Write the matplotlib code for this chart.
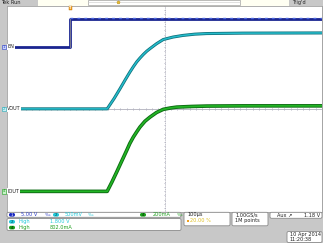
import matplotlib
matplotlib.use("Agg")
import matplotlib.pyplot as plt
import numpy as np
from matplotlib.patches import Rectangle, FancyBboxPatch

# ---------------- data (read from the screen) ----------------
# time in microseconds, trigger at t = 0, 100 us/div, screen spans -200 .. 800 us
t_en = [-200, 0, 0, 800]
en_v = [0.0, 0.0, 6.7, 6.7]           # EN, 5 V/div, ground marker at +3 div

t_vout = [-200, 118, 140, 159, 175, 190, 201, 212, 222, 233, 244, 254, 275, 296, 327, 359, 396, 434, 550, 800]
vout_v = [0.0, 0.0, 0.25, 0.49, 0.70, 0.89, 1.02, 1.14, 1.23, 1.32, 1.40, 1.46, 1.58, 1.68, 1.74, 1.78, 1.81, 1.825, 1.835, 1.84]  # 500 mV/div

t_iout = [-200, 118, 133, 148, 164, 180, 190, 201, 212, 222, 238, 254, 275, 296, 318, 339, 386, 434, 550, 800]
iout_ma = [0, 0, 90, 186, 292, 397, 465, 526, 578, 623, 680, 720, 765, 795, 808, 817, 823, 827, 829, 829]  # 200 mA/div

ch_scale = {"EN": 5.0, "VOUT": 0.5, "IOUT": 200.0}
ch_offset = {"EN": 3.0, "VOUT": 0.0, "IOUT": -4.0}

W, H = 323, 243
fig = plt.figure(figsize=(W / 100, H / 100), dpi=100)
fig.patch.set_facecolor("#c8c8c8")

back = fig.add_axes([0, 0, 1, 1], zorder=0)
back.set_xlim(0, W); back.set_ylim(H, 0); back.axis("off")

gx0, gx1, gy0, gy1 = 7, 322, 5.7, 212
ax = fig.add_axes([gx0 / W, (H - gy1) / H, (gx1 - gx0) / W, (gy1 - gy0) / H], zorder=1)
ax.set_facecolor("white")
ax.set_xlim(-200, 800)
ax.set_ylim(-5, 5)
ax.set_xticks([]); ax.set_yticks([])
for s in ax.spines.values():
    s.set_color("#a0a0a0"); s.set_linewidth(0.6)

# graticule dots
gcol = "#a9abc8"
for xk in np.arange(-100, 800, 100):
    ys = np.arange(-5, 5.01, 0.2)
    ax.scatter(np.full_like(ys, xk), ys, s=0.35, c=gcol, marker="s", linewidths=0, zorder=1)
for yk in np.arange(-4, 5, 1):
    xs = np.arange(-200, 800.1, 20)
    ax.scatter(xs, np.full_like(xs, yk), s=0.35, c=gcol, marker="s", linewidths=0, zorder=1)
# centre cross
ax.axhline(0, color="#a0a0ae", lw=0.5, zorder=1)
ax.axvline(300, color="#a0a0ae", lw=0.5, ls=(0, (1.5, 1)), zorder=1)
for xs in np.arange(-200, 800.1, 20):
    ax.plot([xs, xs], [-0.06, 0.06], color="#b0b0c0", lw=0.4, zorder=1)
for ys in np.arange(-5, 5.01, 0.2):
    ax.plot([297, 303], [ys, ys], color="#b0b0c0", lw=0.4, zorder=1)


def to_div(vals, ch):
    return [ch_offset[ch] + v / ch_scale[ch] for v in vals]


en_d = to_div(en_v, "EN")
vo_d = to_div(vout_v, "VOUT")
io_d = to_div(iout_ma, "IOUT")

# EN trace with noise speckle on the high level
ax.plot(t_en, en_d, color="#1a2590", lw=2.0, zorder=3, solid_capstyle="butt")
ax.plot([0, 800], [en_d[-1] + 0.06, en_d[-1] + 0.06], color="#4a66e0", lw=1.0,
        ls=(0, (2, 3)), zorder=4)
ax.plot([0, 0], [en_d[1], en_d[2]], color="#7a7a90", lw=0.7, zorder=3)
# VOUT
ax.plot(t_vout, vo_d, color="#0f6f7a", lw=2.2, zorder=3)
ax.plot(t_vout, vo_d, color="#25bccb", lw=1.1, zorder=4)
# IOUT
ax.plot(t_iout, io_d, color="#0d6a12", lw=2.6, zorder=3)
ax.plot(t_iout, io_d, color="#22b425", lw=1.3, zorder=4)

fr = fig.add_axes([0, 0, 1, 1], zorder=2)
fr.set_xlim(0, W); fr.set_ylim(H, 0); fr.axis("off")
fr.patch.set_alpha(0)

fs = 3.6
# top bar
fr.add_patch(Rectangle((38, 0), 251, 5.7, facecolor="#fffff2", edgecolor="none"))
fr.add_patch(Rectangle((88, 0.3), 152, 4.4, facecolor="white", edgecolor="#a0a0a0", lw=0.5))
fr.plot([88, 240], [2.5, 2.5], color="#c8c8c8", lw=0.4)
fr.plot([118], [2.5], marker="p", ms=2.4, color="#e8c030", mec="#b08010", mew=0.3)
fr.text(1.0, 2.7, "Tek Run", fontsize=fs, va="center", ha="left", color="#202020")
fr.text(292, 2.7, "Trig'd", fontsize=fs, va="center", ha="left", color="#202020")
# trigger marker
fr.add_patch(Rectangle((68.5, 6), 3, 4.3, facecolor="#f0a020", edgecolor="#c07000", lw=0.3))
fr.text(70, 8.1, "T", fontsize=2.6, ha="center", va="center", color="white", fontweight="bold")


def div_to_px(d):
    return gy0 + (5 - d) / 10 * (gy1 - gy0)


def marker(ypx, num, fc, ec, label):
    fr.add_patch(Rectangle((1.8, ypx - 2.3), 4.6, 4.6, facecolor=fc, edgecolor=ec, lw=0.4))
    fr.text(4.1, ypx, num, fontsize=2.8, ha="center", va="center", color=ec)
    fr.text(7.3, ypx, label, fontsize=fs, ha="left", va="center", color="#202020",
            bbox=dict(boxstyle="square,pad=0.08", facecolor="white", edgecolor="none"))


marker(div_to_px(ch_offset["EN"]), "1", "#c8d4fa", "#2c3cc8", "EN")
marker(div_to_px(ch_offset["VOUT"]), "2", "#c8f0f4", "#20a8b8", "VOUT")
marker(div_to_px(ch_offset["IOUT"]), "4", "#c8f2c8", "#20a020", "IOUT")


def rbox(x, y, w, h):
    fr.add_patch(FancyBboxPatch((x, y), w, h, boxstyle="round,pad=0,rounding_size=1.5",
                                facecolor="white", edgecolor="#8a8a8a", lw=0.6))


rbox(7, 212.3, 174, 5)
rbox(7, 218.5, 174, 12)
rbox(184, 212.3, 46, 13.5)
rbox(232, 212.3, 36, 13.5)
rbox(270, 212.3, 52, 6)
rbox(287, 231.5, 35, 11)


def badge(x, y, num, fc, tc):
    fr.add_patch(FancyBboxPatch((x - 3, y - 1.8), 6, 3.6, boxstyle="round,pad=0,rounding_size=1.7",
                                facecolor=fc, edgecolor="none"))
    fr.text(x, y, num, fontsize=2.8, ha="center", va="center", color=tc)


blue_t, cyan_t, green_t = "#2c3cc8", "#20c8d8", "#20a020"
badge(12, 214.8, "1", "#1828c0", "white")
fr.text(21, 214.8, "5.00 V", fontsize=fs, va="center", color=blue_t)
fr.text(45, 214.8, "\u2030", fontsize=3.0, va="center", color=blue_t)
badge(56, 214.8, "2", "#20c8d8", "#0a4a50")
fr.text(65, 214.8, "500mV", fontsize=fs, va="center", color=cyan_t)
fr.text(88, 214.8, "\u2030", fontsize=3.0, va="center", color=cyan_t)
badge(143, 214.8, "4", "#18a018", "#063006")
fr.text(153, 214.8, "200mA", fontsize=fs, va="center", color=green_t)
fr.text(177, 214.8, "\u2030", fontsize=3.0, va="center", color=green_t)

badge(12, 221.8, "2", "#20c8d8", "#0a4a50")
fr.text(18.5, 221.8, "High", fontsize=fs, va="center", color=cyan_t)
fr.text(50, 221.8, "1.800 V", fontsize=fs, va="center", color=cyan_t)
badge(12, 227.6, "4", "#18a018", "#063006")
fr.text(18.5, 227.6, "High", fontsize=fs, va="center", color=green_t)
fr.text(50, 227.6, "802.0mA", fontsize=fs, va="center", color=green_t)

fr.text(187, 214.8, "100\u00b5s", fontsize=fs, va="center", color="#202020")
fr.add_patch(Rectangle((186.5, 219.6), 2.3, 2.3, facecolor="#f0a020", edgecolor="none"))
fr.text(190.5, 220.8, "20.00 %", fontsize=fs, va="center", color="#e0c020")
fr.text(235, 214.8, "1.00GS/s", fontsize=fs, va="center", color="#202020")
fr.text(235, 220.8, "1M points", fontsize=fs, va="center", color="#202020")
fr.text(277, 215.2, "Aux \u2197", fontsize=fs, va="center", color="#202020")
fr.text(320, 215.2, "1.18 V", fontsize=fs, va="center", ha="right", color="#202020")
fr.text(289.5, 234.6, "10 Apr 2014", fontsize=fs, va="center", color="#202020")
fr.text(289.5, 239.6, "11:20:38", fontsize=fs, va="center", color="#202020")

fig.savefig("out.png", dpi=100, facecolor=fig.get_facecolor())
